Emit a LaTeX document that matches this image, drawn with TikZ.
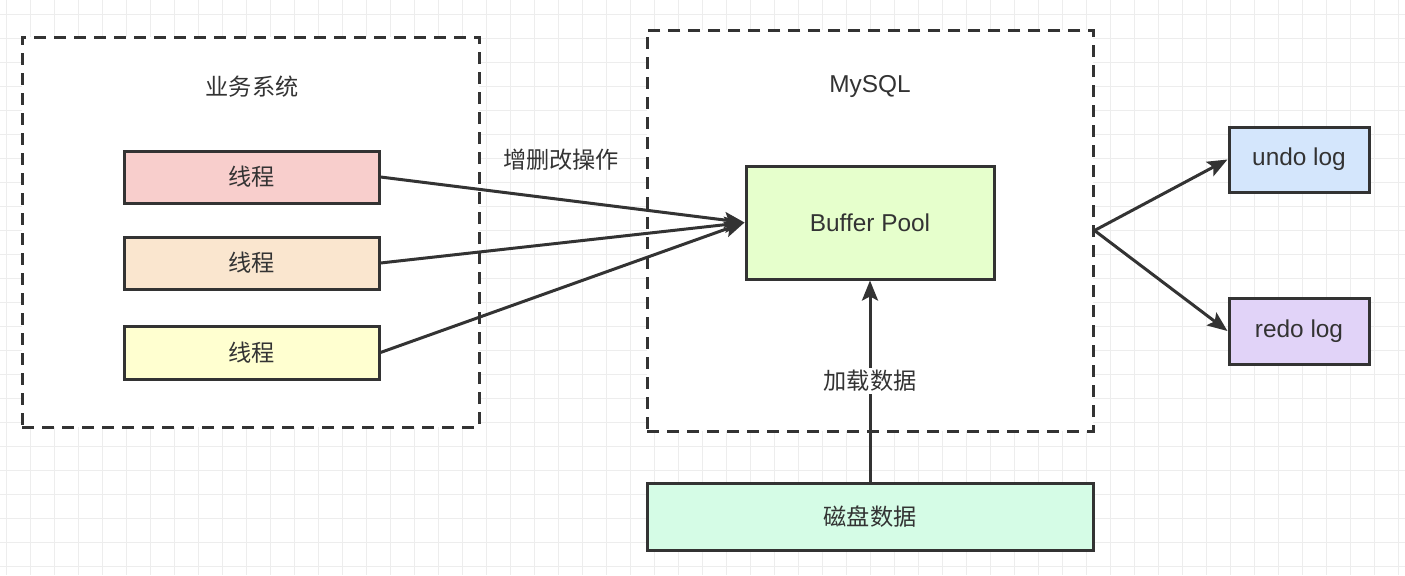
\documentclass[tikz,border=0pt]{standalone}
\usepackage{fontspec}
\setmainfont{Liberation Sans}
\newfontfamily\cjk{Noto Sans CJK SC}
\usetikzlibrary{arrows.meta}

\definecolor{ink}{HTML}{333333}
\definecolor{gridc}{HTML}{EDEDED}
\definecolor{threadA}{HTML}{F8CECC}
\definecolor{threadB}{HTML}{FAE6CF}
\definecolor{threadC}{HTML}{FFFFD0}
\definecolor{poolc}{HTML}{E6FFCC}
\definecolor{undoc}{HTML}{D4E6FC}
\definecolor{redoc}{HTML}{E1D3F8}
\definecolor{diskc}{HTML}{D5FCE6}

\begin{document}
\begin{tikzpicture}[
    x=0.5pt, y=-0.5pt,
    font=\fontsize{12.2pt}{14pt}\selectfont,
    text=ink,
    gridline/.style={draw=gridc, line width=0.5pt},
    group/.style={draw=ink, line width=1.5pt, dash pattern=on 6pt off 4pt, fill=white, inner sep=0pt},
    box/.style={draw=ink, line width=1.5pt, inner sep=0pt, align=center},
    title/.style={font=\cjk\fontsize{11.6pt}{14pt}\selectfont},
    flow/.style={draw=ink, line width=1.5pt, -{Stealth[length=10pt, width=8pt, inset=2pt]}}
]
\useasboundingbox (0,0) rectangle (1405,575);

% Background grid
\foreach \gx in {6,30,...,1405}
  \draw[gridline] (\gx,0) -- (\gx,575);
\foreach \gy in {14,38,...,575}
  \draw[gridline] (0,\gy) -- (1405,\gy);

% Group boxes
\node[group, minimum width=228.5pt, minimum height=195pt] (biz) at (250.5,232) {};
\node[group, minimum width=223pt, minimum height=200.5pt] (mysql) at (870,230.5) {};
\node[title] (biztitle) at (252,87) {业务系统};
\node (mysqltitle) at (870,87) {MySQL};

% Threads
\node[box, fill=threadA, minimum width=127.5pt, minimum height=26pt, title] (t1) at (251.5,177) {线程};
\node[box, fill=threadB, minimum width=127.5pt, minimum height=26pt, title] (t2) at (251.5,263) {线程};
\node[box, fill=threadC, minimum width=127.5pt, minimum height=26.5pt, title] (t3) at (251.5,352.5) {线程};

% Storage side
\node[box, fill=poolc, minimum width=124pt, minimum height=56.5pt] (pool) at (870,222.5) {Buffer Pool};
\node[box, fill=diskc, minimum width=223pt, minimum height=33.5pt, title] (disk) at (870,516.5) {磁盘数据};
\node[box, fill=undoc, minimum width=70pt, minimum height=32.5pt] (undo) at (1299,159.5) {undo log};
\node[box, fill=redoc, minimum width=70pt, minimum height=33pt] (redo) at (1299,331) {redo log};

% Flows
\draw[flow] (t1.east) -- (pool.west);
\draw[flow] (t2.east) -- (pool.west);
\draw[flow] (t3.east) -- (pool.west);
\node[title] (opslabel) at (561,160) {增删改操作};

\draw[flow] (disk.north) -- node[fill=white, title, pos=0.5, inner sep=1pt] (loadlabel) {加载数据} (pool.south);

\draw[flow] (mysql.east) -- (undo.west);
\draw[flow] (mysql.east) -- (redo.west);

\end{tikzpicture}
\end{document}
